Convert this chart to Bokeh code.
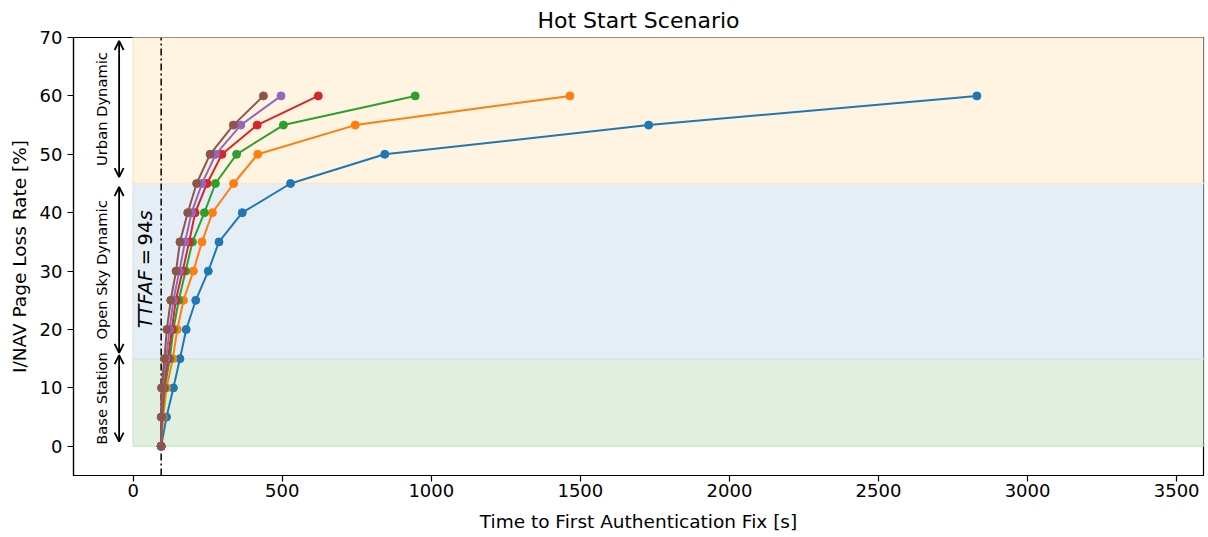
import math
from bokeh.plotting import figure
from bokeh.models import Range1d, Label, Arrow, OpenHead, FixedTicker
from bokeh.embed import file_html
from bokeh.resources import INLINE

# ---- data ----
loss_rate = [0, 5, 10, 15, 20, 25, 30, 35, 40, 45, 50, 55, 60]
series_ttfaf = [
    [94, 112, 135, 157, 178, 210, 252, 288, 366, 528, 844, 1729, 2830],
    [94, 101, 112, 133, 148, 169, 202, 231, 266, 337, 418, 745, 1465],
    [94, 98, 106, 123, 135, 153, 176, 199, 239, 276, 347, 504, 946],
    [94, 96, 102, 117, 130, 143, 166, 188, 208, 248, 298, 416, 621],
    [94, 95, 98, 111, 122, 135, 155, 174, 196, 231, 277, 361, 496],
    [94, 94, 95, 105, 113, 126, 144, 157, 183, 213, 258, 336, 437],
]
colors = ["#1f77b4", "#ff7f0e", "#2ca02c", "#d62728", "#9467bd", "#8c564b"]
TTFAF = 94
zones = ["Base Station", "Open Sky Dynamic", "Urban Dynamic"]
zone_bottom = [0, 15, 45]
zone_top = [15, 45, 70]
zone_fill = ["#e0efe0", "#e6eef5", "#fff4e1"]
zone_edge = ["#cfe6d0", "#d8e4ee", "#fbe6c9"]
arrow_start = [0.8, 16.0, 46.1]
arrow_end = [15.6, 44.4, 69.4]
x_ticks = [0, 500, 1000, 1500, 2000, 2500, 3000, 3500]
y_ticks = [0, 10, 20, 30, 40, 50, 60, 70]
X_MIN, X_MAX = -200, 3590
Y_MIN, Y_MAX = -5, 70
FONT = "DejaVu Sans"

p = figure(width=1206, height=535, output_backend="svg", toolbar_location=None,
           x_range=Range1d(X_MIN, X_MAX), y_range=Range1d(Y_MIN, Y_MAX),
           min_border_left=73, min_border_right=3, min_border_top=37, min_border_bottom=60)
p.title.text = "Hot Start Scenario"
p.title.align = "center"
p.title.text_font = FONT
p.title.text_font_size = "22px"
p.title.text_font_style = "normal"
p.title.text_color = "black"

p.xgrid.visible = False
p.ygrid.visible = False
p.outline_line_color = "black"
p.outline_line_width = 1.2
p.outline_line_alpha = 1

for ax, ticks in ((p.xaxis, x_ticks), (p.yaxis, y_ticks)):
    ax.ticker = FixedTicker(ticks=ticks)
    ax.major_label_text_font = FONT
    ax.major_label_text_font_size = "18px"
    ax.major_label_text_color = "black"
    ax.axis_label_text_font = FONT
    ax.axis_label_text_font_size = "18.5px"
    ax.axis_label_text_font_style = "normal"
    ax.axis_label_text_color = "black"
    ax.axis_line_color = "black"
    ax.axis_line_width = 1.2
    ax.major_tick_line_color = "black"
    ax.major_tick_line_width = 1.2
    ax.major_tick_out = 6
    ax.major_tick_in = 0
    ax.minor_tick_line_color = None
p.xaxis.axis_label = "Time to First Authentication Fix [s]"
p.yaxis.axis_label = "I/NAV Page Loss Rate [%]"
p.xaxis.major_label_standoff = 2
p.yaxis.major_label_standoff = 5
p.xaxis.axis_label_standoff = 11
p.yaxis.axis_label_standoff = 7

# zone bands
for b, t, fc, ec in zip(zone_bottom, zone_top, zone_fill, zone_edge):
    p.quad(left=[0], right=[X_MAX + 100], bottom=[b], top=[t],
           fill_color=fc, fill_alpha=1, line_color=ec, line_width=1.5)

# TTFAF vertical line
p.segment(x0=[TTFAF], y0=[Y_MIN], x1=[TTFAF], y1=[Y_MAX],
          line_color="black", line_width=1.5, line_dash="7 3 2 3")

# series
for xs, c in zip(series_ttfaf, colors):
    p.line(xs, loss_rate, line_color=c, line_width=2)
    p.scatter(xs, loss_rate, fill_color=c, line_color=c, size=8)

# zone arrows and labels
ARROW_X = -47
LABEL_X = -105
for name, s, e in zip(zones, arrow_start, arrow_end):
    p.add_layout(Arrow(x_start=ARROW_X, y_start=s, x_end=ARROW_X, y_end=e,
                       line_color="black", line_width=1.8,
                       start=OpenHead(size=9, line_color="black", line_width=1.8),
                       end=OpenHead(size=9, line_color="black", line_width=1.8)))
    p.add_layout(Label(x=LABEL_X, y=(s + e) / 2, text=name, angle=math.pi / 2,
                       text_align="center", text_baseline="middle",
                       text_font=FONT, text_font_size="14.7px", text_color="black"))

# "TTFAF = 94s" annotation in math-text style (italic symbols, upright digits)
TEXT_X = 40
ttfaf_parts = [("TTFAF", 20.2, "left", "italic"),
               ("=", 32.4, "center", "normal"),
               (str(TTFAF), 34.4, "left", "normal"),
               ("s", 38.65, "left", "italic")]
for txt, ypos, align, style in ttfaf_parts:
    p.add_layout(Label(x=TEXT_X, y=ypos, text=txt, angle=math.pi / 2,
                       text_align=align, text_baseline="middle",
                       text_font=FONT, text_font_size="19.5px", text_font_style=style,
                       text_color="black"))

open("out.html", "w").write(file_html(p, INLINE))
